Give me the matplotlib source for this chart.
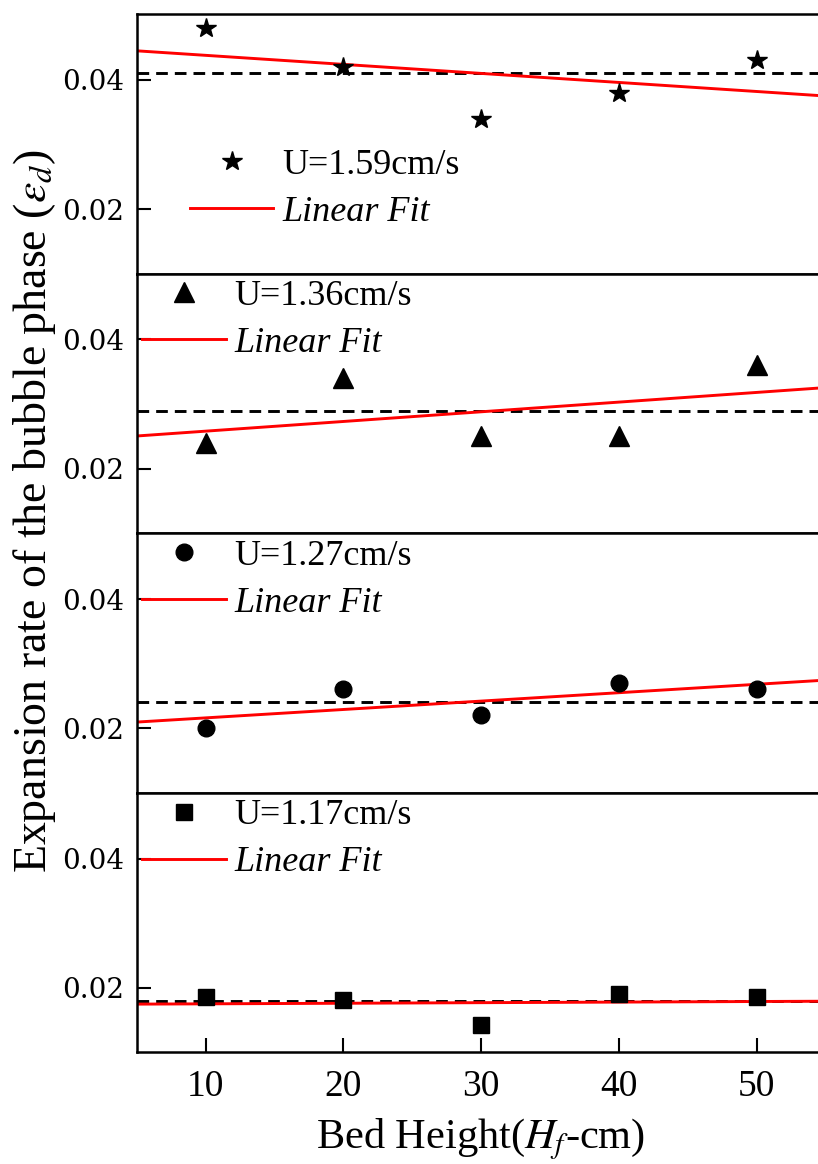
import matplotlib
matplotlib.use('Agg')
import matplotlib.pyplot as plt
from matplotlib.lines import Line2D
import numpy as np

plt.rcParams['font.family'] = ['Liberation Serif', 'DejaVu Serif']
plt.rcParams['mathtext.fontset'] = 'stix'

# bed heights (cm)
heights = [10, 20, 30, 40, 50]

# expansion rate of the bubble phase, one list per gas velocity
eps_159 = [0.048, 0.042, 0.034, 0.038, 0.043]
eps_136 = [0.024, 0.034, 0.025, 0.025, 0.036]
eps_127 = [0.020, 0.026, 0.022, 0.027, 0.026]
eps_117 = [0.0186, 0.0181, 0.0142, 0.0190, 0.0186]

# dashed reference level in each panel
mean_levels = [0.041, 0.029, 0.024, 0.018]

labels = ['U=1.59cm/s', 'U=1.36cm/s', 'U=1.27cm/s', 'U=1.17cm/s']
series = [eps_159, eps_136, eps_127, eps_117]
markers = ['*', '^', 'o', 's']
msizes = [15, 14, 12, 11]

yticks = [0.02, 0.04]
xticks = [10, 20, 30, 40, 50]

W, H = 818, 1164
fig = plt.figure(figsize=(W / 100, H / 100), dpi=100)

left = 136.6 / W
width = (825.6 - 136.6) / W
ph = 259.6 / H
tops = [14, 273.6, 533.2, 792.8]

# legend anchors (axes coords)
leg_pos = [(0.078, 0.327), (0.0085, 0.822), (0.0085, 0.822), (0.0085, 0.822)]

xfit = np.linspace(5, 55, 50)

for i in range(4):
    bottom = 1 - (tops[i] + 259.6) / H
    ax = fig.add_axes([left, bottom, width, ph])
    y = np.array(series[i])
    x = np.array(heights)

    ax.axhline(mean_levels[i], color='black', lw=2.1, ls=(0, (4, 2.4)), zorder=1)
    p = np.polyfit(x, y, 1)
    ax.plot(xfit, np.polyval(p, xfit), color='#ff0000', lw=2.1, zorder=2)
    ax.plot(x, y, ls='none', marker=markers[i], ms=msizes[i], color='black', zorder=3)

    ax.set_xlim(5, 55)
    ax.set_ylim(0.01, 0.0502)
    ax.set_yticks(yticks)
    ax.set_yticklabels(['%.2f' % v for v in yticks], fontfamily='DejaVu Serif', fontsize=20)
    ax.tick_params(axis='y', direction='in', length=10, width=1.5, pad=9)
    ax.set_xticks(xticks)
    if i == 3:
        ax.set_xticklabels([str(v) for v in xticks], fontsize=27)
        ax.tick_params(axis='x', direction='in', length=10, width=1.5, pad=12)
    else:
        ax.tick_params(axis='x', length=0, labelbottom=False)
    for s in ax.spines.values():
        s.set_linewidth(1.8)

    handles = [Line2D([], [], ls='none', marker=markers[i], ms=msizes[i], color='black'),
               Line2D([], [], color='#ff0000', lw=2.1)]
    leg = ax.legend(handles, [labels[i], 'Linear Fit'], loc='center left',
                    bbox_to_anchor=leg_pos[i], frameon=False, fontsize=26,
                    handlelength=2.3, handletextpad=0.25, labelspacing=0.38,
                    borderpad=0, borderaxespad=0)
    leg.get_texts()[1].set_style('italic')

fig.text(35 / W, 1 - 511 / H, r'Expansion rate of the bubble phase ($\varepsilon_d$)',
         rotation=90, ha='center', va='center', fontsize=33)
fig.text(481 / W, 1 - 1148 / H, r'Bed Height($H_f$-cm)', ha='center', va='baseline', fontsize=30.5)

fig.savefig('out.png', dpi=100)
